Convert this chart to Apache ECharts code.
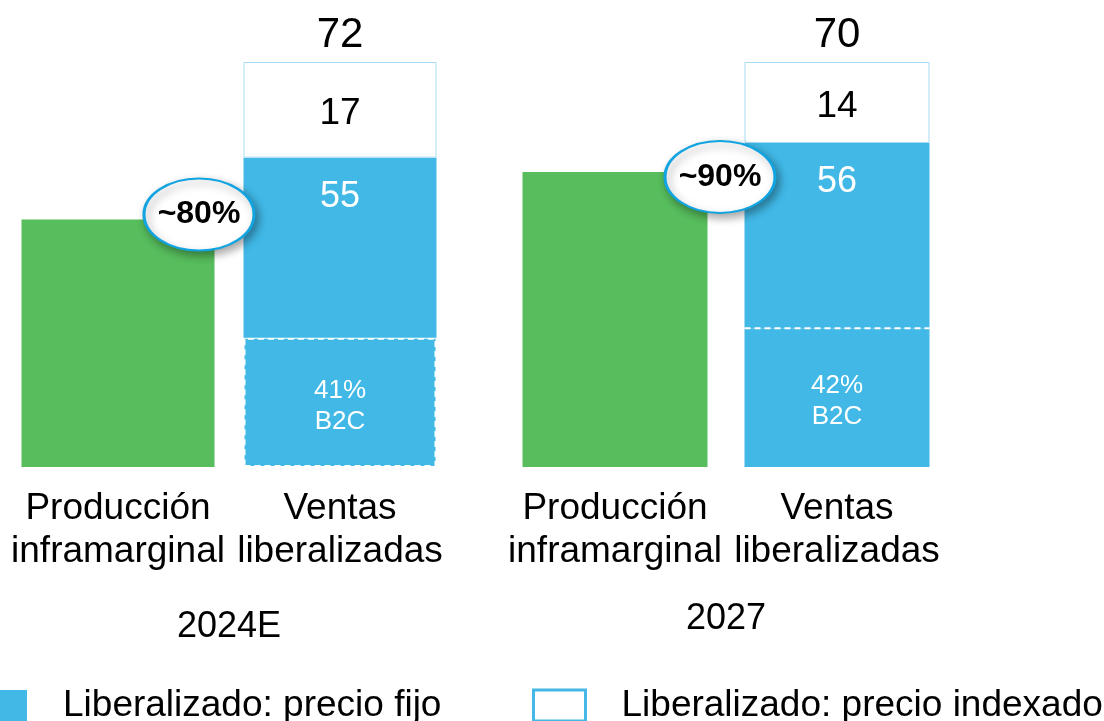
<!DOCTYPE html>
<html><head><meta charset="utf-8">
<script src="https://cdn.jsdelivr.net/npm/echarts@6/dist/echarts.min.js"></script>
<style>html,body{margin:0;padding:0;background:#fff}#c{width:1104px;height:721px}</style>
</head><body><div id="c"></div>
<script>
// ---- data ----
const years = ['2024E', '2027'];
const categories = ['Producción\ninframarginal', 'Ventas\nliberalizadas'];
const inframarginal = [44, 51];
const precioFijo = [55, 56];
const precioIndexado = [17, 14];
const b2cVolume = [23, 24];
const b2cShare = ['41%', '42%'];
const coverage = ['~80%', '~90%'];
const totals = [72, 70];
const legendNames = ['Liberalizado: precio fijo', 'Liberalizado: precio indexado'];

// ---- style ----
const BLUE = '#41b8e6', GREEN = '#57bd5d';
const FONT = '"Liberation Sans", Arial, Helvetica, sans-serif';
const gridLeft = [7, 504], barW = [193, 185];
const ovalOffset = [[81, -5], [105, 5]];
const yearGap = [142, 134];
const OVAL = 'path://M0,50 A50,50 0 1,1 100,50 A50,50 0 1,1 0,50 Z';

const chart = echarts.init(document.getElementById('c'), null, {renderer: 'canvas'});

const grid = [], xAxis = [], yAxis = [], series = [];
years.forEach((yr, g) => {
  grid.push({left: gridLeft[g], width: 444, top: 62, bottom: 254});
  xAxis.push({
    type: 'category', gridIndex: g, data: categories,
    axisLine: {show: false}, axisTick: {show: false}, splitLine: {show: false},
    axisLabel: {interval: 0, fontSize: 37, lineHeight: 43, color: '#000', margin: 20, fontFamily: FONT},
    name: yr, nameLocation: 'middle', nameGap: yearGap[g], nameMoveOverlap: false,
    nameTextStyle: {fontSize: 36, color: '#000', fontFamily: FONT}
  });
  yAxis.push({type: 'value', gridIndex: g, min: 0, max: totals[g], show: false});
  const common = {type: 'bar', xAxisIndex: g, yAxisIndex: g, stack: 's' + g, barWidth: barW[g], silent: true};
  series.push(Object.assign({}, common, {
    name: 'Producción inframarginal',
    data: [inframarginal[g], '-'],
    itemStyle: {color: GREEN},
    markPoint: {
      symbol: OVAL, symbolSize: [110, 72], symbolOffset: ovalOffset[g],
      itemStyle: {color: '#fff', borderColor: '#12a4e0', borderWidth: 2.5,
        shadowBlur: 8, shadowColor: 'rgba(0,0,0,0.35)', shadowOffsetX: 3, shadowOffsetY: 4},
      label: {show: true, position: 'inside', formatter: coverage[g], fontSize: 32, fontWeight: 'bold', color: '#000', fontFamily: FONT},
      data: [{coord: [categories[0], inframarginal[g]]}]
    }
  }));
  series.push(Object.assign({}, common, {
    name: legendNames[0],
    data: ['-', b2cVolume[g]],
    itemStyle: g === 0
      ? {color: BLUE, borderColor: '#fff', borderWidth: 2, borderType: [6, 4]}
      : {color: BLUE, borderWidth: 0},
    label: {show: true, position: 'inside', offset: [0, 4], formatter: b2cShare[g] + '\nB2C', fontSize: 26, lineHeight: 31, color: '#fff', fontFamily: FONT}
  }));
  series.push(Object.assign({}, common, {
    name: legendNames[0],
    data: ['-', precioFijo[g] - b2cVolume[g]],
    itemStyle: {color: BLUE},
    label: {show: true, position: 'insideTop', distance: 21, formatter: String(precioFijo[g]), fontSize: 36, color: '#fff', fontFamily: FONT}
  }));
  series.push(Object.assign({}, common, {
    name: legendNames[1],
    data: ['-', precioIndexado[g]],
    itemStyle: {color: '#fff', borderColor: '#a6ddf4', borderWidth: 1},
    label: {show: true, position: 'inside', offset: [0, 4], fontSize: 37, color: '#000', fontFamily: FONT},
    markPoint: {
      symbol: 'rect', symbolSize: 0,
      label: {show: true, position: 'top', distance: 6, formatter: String(totals[g]), fontSize: 42, color: '#000', fontFamily: FONT},
      data: [{coord: [categories[1], totals[g]]}]
    }
  }));
});

chart.setOption({
  animation: false,
  backgroundColor: '#fff',
  grid, xAxis, yAxis, series,
  legend: [
    {data: [legendNames[0]], left: 0, top: 687, padding: 0, selectedMode: false, icon: 'rect',
      itemWidth: 27, itemHeight: 31, itemStyle: {color: BLUE, borderWidth: 0},
      textStyle: {fontSize: 37, color: '#000', fontFamily: FONT, padding: [0, 0, 0, 31]}},
    {data: [legendNames[1]], left: 532, top: 687, padding: 0, selectedMode: false, icon: 'rect',
      itemWidth: 52, itemHeight: 31, itemStyle: {color: '#fff', borderColor: '#45b8e8', borderWidth: 3},
      textStyle: {fontSize: 37, color: '#000', fontFamily: FONT, padding: [0, 0, 0, 31]}}
  ]
});

// dashed B2C divider for 2027 bar, positioned from the axis scale
const p = chart.convertToPixel({xAxisIndex: 1, yAxisIndex: 1}, [categories[1], b2cVolume[1]]);
chart.setOption({
  graphic: [{type: 'line', z: 100, silent: true,
    shape: {x1: p[0] - barW[1] / 2, y1: p[1], x2: p[0] + barW[1] / 2, y2: p[1]},
    style: {stroke: '#fff', lineWidth: 2, lineDash: [6, 4]}}]
});
</script></body></html>
